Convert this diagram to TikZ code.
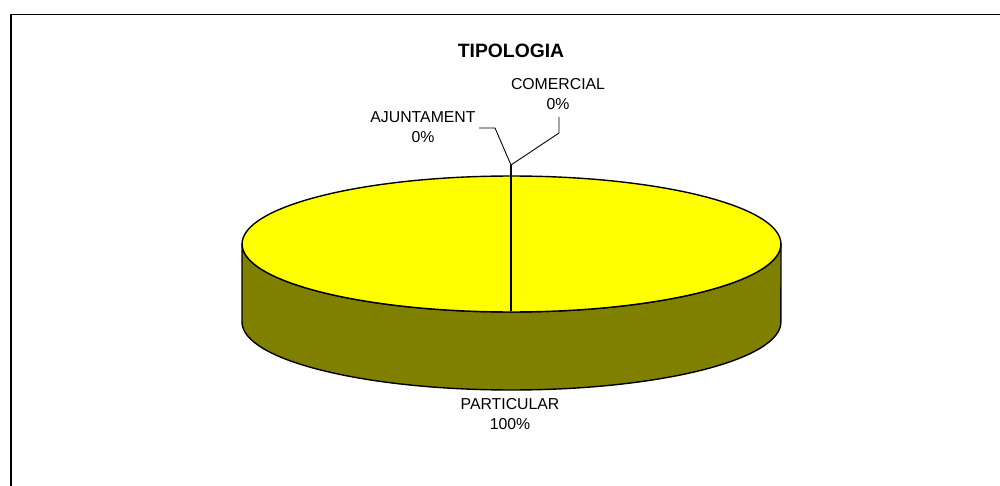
\documentclass[tikz,border=0pt]{standalone}
\usepackage{fontspec}
\setmainfont{Liberation Sans}
\usepackage{tikz}
\usetikzlibrary{positioning}
\definecolor{pieTop}{HTML}{FFFF00}
\definecolor{pieSide}{HTML}{808000}
\tikzset {
    style T/.style={
        font=\fontsize{11}{13}\selectfont\bfseries,
        inner sep=0pt,
        align=center,
    },
    style L/.style={
        font=\fontsize{9}{11.2}\selectfont,
        inner sep=0pt,
        align=center,
    },
    style W/.style={
        draw=black,
        line width=0.5pt,
    },
    style P/.style={
        draw=black,
        line width=0.8pt,
        line join=round,
    },
}
\begin{document}
\begin{tikzpicture}
[x=0.02cm, y=-0.02cm]
\clip (0,0) rectangle (1000,486);
\fill[white] (0,0) rectangle (1000,486);
\draw[line width=0.8pt] (11,14.5) rectangle (1020,520);

% pie: side, then top
\draw[style P, fill=pieSide] (242,244) -- (242,322)
    arc[start angle=180, end angle=360, x radius=5.39cm, y radius=1.36cm]
    -- (781,244)
    arc[start angle=360, end angle=180, x radius=5.39cm, y radius=1.36cm] -- cycle;
\draw[style P, fill=pieTop] (511.5,244) ellipse [x radius=5.39cm, y radius=1.36cm];

\node[style T] at (511,51) (title) {TIPOLOGIA};
\node[style L] at (558,94) (comercial) {COMERCIAL\\0\%};
\node[style L] at (423,127) (ajuntament) {AJUNTAMENT\\0\%};
\node[style L] at (510,414) (particular) {PARTICULAR\\100\%};

\coordinate (hub) at (511,165);
\coordinate (rim) at (511,311);
\coordinate (comTop) at (559,117);
\coordinate (comBend) at (559,133);
\coordinate (ajuEnd) at (479,128);
\coordinate (ajuBend) at (495,128);

\draw[style W] (comTop) -- (comBend) -- (hub);
\draw[style W] (ajuEnd) -- (ajuBend) -- (hub);
\draw[line width=1.3pt] (hub) -- (rim);
\end{tikzpicture}
\end{document}
